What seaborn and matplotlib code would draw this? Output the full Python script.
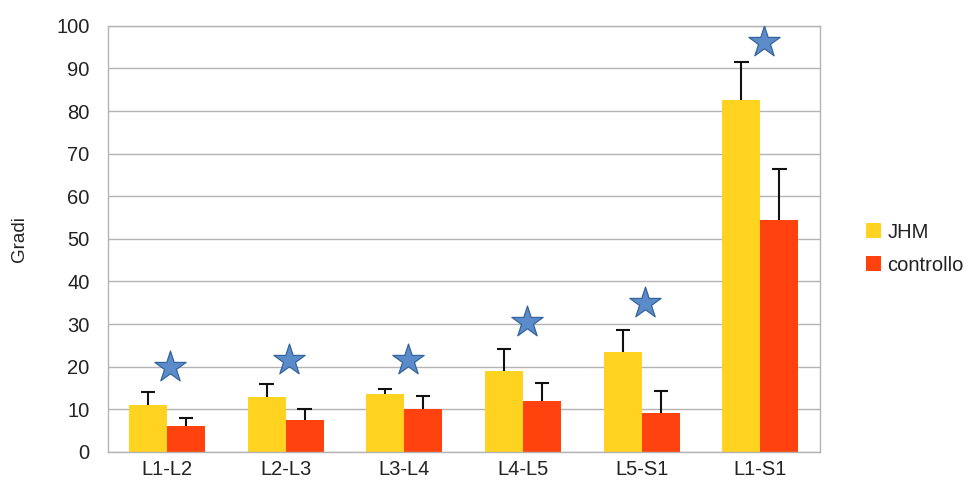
import numpy as np
import pandas as pd
import matplotlib
matplotlib.use('Agg')
import matplotlib.pyplot as plt
import seaborn as sns

CATEGORIES = ['L1-L2', 'L2-L3', 'L3-L4', 'L4-L5', 'L5-S1', 'L1-S1']
JHM = [11.0, 12.9, 13.6, 19.0, 23.5, 82.6]
JHM_ERR = [3.1, 3.1, 1.2, 5.2, 5.1, 8.9]
CONTROLLO = [6.1, 7.5, 10.1, 12.0, 9.2, 54.5]
CONTROLLO_ERR = [1.9, 2.6, 3.0, 4.2, 5.1, 11.9]
STARS = [20.0, 21.6, 21.6, 30.5, 35.0, 96.2]
SERIES = ['JHM', 'controllo']
COLORS = {'JHM': '#FFD320', 'controllo': '#FF420E'}

GRID = '#b3b3b3'
TEXT = '#222222'

sns.set_style('white')
plt.rcParams['font.family'] = ['Liberation Sans', 'DejaVu Sans']

df = pd.DataFrame({
    'segmento': CATEGORIES * 2,
    'gruppo': ['JHM'] * len(CATEGORIES) + ['controllo'] * len(CATEGORIES),
    'gradi': JHM + CONTROLLO,
})

fig = plt.figure(figsize=(9.69, 4.88), dpi=100)
ax = fig.add_axes([0.111, 0.074, 0.735, 0.873])

sns.barplot(data=df, x='segmento', y='gradi', hue='gruppo', order=CATEGORIES,
            hue_order=SERIES, palette=COLORS, width=0.64, saturation=1,
            errorbar=None, linewidth=0, ax=ax, zorder=2)

# upward-only error bars (stem + top cap), on the bar centres
cap = 0.06
for cont, vals, errs in zip(ax.containers, [JHM, CONTROLLO], [JHM_ERR, CONTROLLO_ERR]):
    xs = np.array([p.get_x() + p.get_width() / 2 for p in cont.patches])
    tops = np.array(vals) + np.array(errs)
    ax.vlines(xs, vals, tops, color='#111111', linewidth=1.5, zorder=3)
    ax.hlines(tops, xs - cap, xs + cap, color='#111111', linewidth=1.5, zorder=3)

# significance stars
ax.scatter(np.arange(len(CATEGORIES)) + 0.03, STARS, marker='*', s=560,
           color='#5b8cc9', edgecolor='#36649c', linewidth=0.9, zorder=4)

ax.set_ylim(0, 100)
ax.set_xlim(-0.5, len(CATEGORIES) - 0.5)
ax.set_yticks(range(0, 101, 10))
ax.yaxis.grid(True, color=GRID, linewidth=1.0, zorder=0)
ax.set_axisbelow(True)
ax.tick_params(axis='y', length=8, color=GRID, labelsize=14.5, labelcolor=TEXT, pad=5)
ax.set_xticks(range(len(CATEGORIES)))
ax.set_xticklabels(CATEGORIES)
ax.set_xticks(np.arange(-0.5, len(CATEGORIES), 1.0), minor=True)
ax.tick_params(axis='x', which='major', length=0, labelsize=14.5, labelcolor=TEXT, pad=6)
ax.tick_params(axis='x', which='minor', length=7, color=GRID)
for s in ax.spines.values():
    s.set_color(GRID)
    s.set_linewidth(1.0)

ax.set_xlabel('')
ax.set_ylabel('Gradi', fontsize=13.5, color=TEXT)
ax.yaxis.set_label_coords(-0.112, 0.5)

handles, labels = ax.get_legend_handles_labels()
ax.legend(handles, labels, loc='center left', bbox_to_anchor=(1.04, 0.477), frameon=False,
          fontsize=14.5, handlelength=0.75, handleheight=0.75, handletextpad=0.3,
          labelspacing=0.7, labelcolor=TEXT)

fig.savefig('out.png', dpi=100)
